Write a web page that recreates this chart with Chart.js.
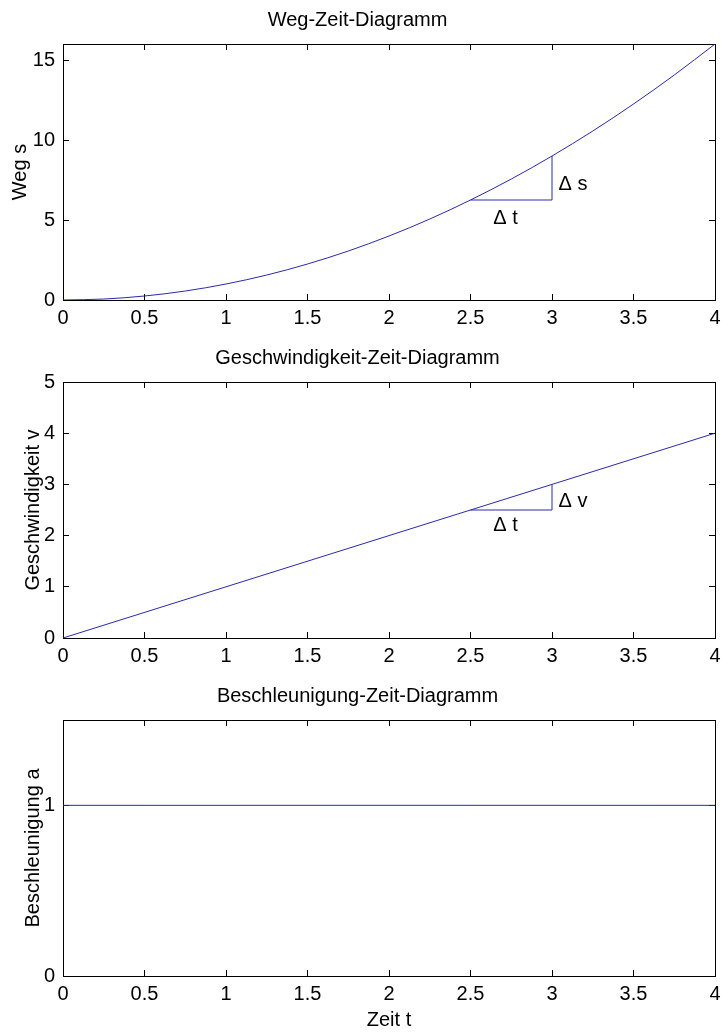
<!DOCTYPE html>
<html>
<head>
<meta charset="utf-8">
<script src="https://cdn.jsdelivr.net/npm/chart.js"></script>
<style>
  html, body { margin: 0; padding: 0; background: #fff; }
  .plot { position: absolute; left: 0; }
</style>
</head>
<body>
<canvas id="c1" class="plot" width="722" height="338" style="top:0px"></canvas>
<canvas id="c2" class="plot" width="722" height="338" style="top:338px"></canvas>
<canvas id="c3" class="plot" width="722" height="357" style="top:676px"></canvas>

<script>
  // Werte
  const zeit = [0, 0.25, 0.5, 0.75, 1, 1.25, 1.5, 1.75, 2, 2.25, 2.5, 2.75, 3, 3.25, 3.5, 3.75, 4];
  const weg = [0, 0.06, 0.25, 0.56, 1, 1.56, 2.25, 3.06, 4, 5.06, 6.25, 7.56, 9, 10.56, 12.25, 14.06, 16];
  const vZeit = [0, 4];
  const geschw = [0, 4];
  const aZeit = [0, 4];
  const beschl = [1, 1];

  // Steigungsdreiecke
  const dreieckSZeit = [2.5, 3, 3];
  const dreieckSWeg = [6.25, 6.25, 9];
  const dreieckVZeit = [2.5, 3, 3];
  const dreieckVGeschw = [2.5, 2.5, 3];

  const xTicks = [0, 0.5, 1, 1.5, 2, 2.5, 3, 3.5, 4];
  const sTicks = [0, 5, 10, 15];
  const vTicks = [0, 1, 2, 3, 4, 5];
  const aTicks = [0, 1];

  const LINE = '#2a2aa8';
  const FONT = { family: "'Liberation Sans', Arial, sans-serif", size: 20, weight: 'normal' };

  Chart.defaults.color = '#000';
  Chart.defaults.font.family = FONT.family;
  Chart.defaults.font.size = FONT.size;

  function points(xs, ys) {
    return xs.map((x, i) => ({ x: x, y: ys[i] }));
  }

  // Textmarken wie text() in MATLAB (linksbündig, vertikal mittig)
  const deltaLabels = {
    id: 'deltaLabels',
    afterDatasetsDraw(chart, args, opts) {
      const ctx = chart.ctx;
      const xs = chart.scales.x, ys = chart.scales.y;
      ctx.save();
      ctx.fillStyle = '#000';
      ctx.font = `${FONT.size}px ${FONT.family}`;
      ctx.textAlign = 'left';
      ctx.textBaseline = 'middle';
      (opts.items || []).forEach(it => {
        ctx.fillText(it.text, xs.getPixelForValue(it.x), ys.getPixelForValue(it.y));
      });
      ctx.restore();
    }
  };

  function tickSetter(list) {
    return scale => { scale.ticks = list.map(v => ({ value: v })); };
  }

  function makeChart(id, titleText, yTitle, yTitlePad, yMax, yTickList, datasets, labels, xTitle) {
    const axisHeight = xTitle ? 57 : 38;
    const gridCfg = { drawOnChartArea: false, drawTicks: true, tickLength: -6, color: '#000', tickColor: '#000', lineWidth: 1 };
    const borderCfg = { display: true, color: '#000', width: 1 };
    new Chart(document.getElementById(id), {
      type: 'line',
      data: { datasets: datasets },
      options: {
        responsive: false,
        animation: false,
        layout: { padding: { left: 0, right: 7, top: 0, bottom: 0 } },
        plugins: {
          legend: { display: false },
          tooltip: { enabled: false },
          title: { display: true, text: titleText, font: FONT, color: '#000', padding: { top: 8, bottom: 12 } },
          deltaLabels: { items: labels }
        },
        elements: { point: { radius: 0 }, line: { borderWidth: 1, tension: 0 } },
        scales: {
          x: {
            type: 'linear', position: 'bottom', min: 0, max: 4,
            afterBuildTicks: tickSetter(xTicks),
            afterFit: s => { s.height = axisHeight; s.paddingLeft = 0; s.paddingRight = 0; },
            grid: gridCfg, border: borderCfg,
            ticks: { autoSkip: false, maxRotation: 0, padding: 12, callback: v => String(v) },
            title: { display: !!xTitle, text: xTitle || '', font: FONT, padding: { top: 0, bottom: 1 } }
          },
          x2: {
            type: 'linear', position: 'top', min: 0, max: 4,
            afterBuildTicks: tickSetter(xTicks),
            afterFit: s => { s.height = 0; s.paddingLeft = 0; s.paddingRight = 0; },
            grid: gridCfg, border: borderCfg,
            ticks: { display: false }
          },
          y: {
            type: 'linear', position: 'left', min: 0, max: yMax,
            afterBuildTicks: tickSetter(yTickList),
            afterFit: s => { s.width = 63; s.paddingTop = 0; s.paddingBottom = 0; },
            grid: gridCfg, border: borderCfg,
            ticks: { padding: 14, callback: v => String(v) },
            title: { display: true, text: yTitle, font: FONT, padding: { top: yTitlePad, bottom: 0 } }
          },
          y2: {
            type: 'linear', position: 'right', min: 0, max: yMax,
            afterBuildTicks: tickSetter(yTickList),
            afterFit: s => { s.width = 0; s.paddingTop = 0; s.paddingBottom = 0; },
            grid: gridCfg, border: borderCfg,
            ticks: { display: false }
          }
        }
      },
      plugins: [deltaLabels]
    });
  }

  makeChart('c1', 'Weg-Zeit-Diagramm', 'Weg s', 8, 16, sTicks, [
    { data: points(zeit, weg), borderColor: LINE, cubicInterpolationMode: 'monotone' },
    { data: points(dreieckSZeit, dreieckSWeg), borderColor: LINE }
  ], [
    { text: '\u0394 t', x: 2.64, y: 5.1 },
    { text: '\u0394 s', x: 3.04, y: 7.2 }
  ]);

  makeChart('c2', 'Geschwindigkeit-Zeit-Diagramm', 'Geschwindigkeit v', 21, 5, vTicks, [
    { data: points(vZeit, geschw), borderColor: LINE },
    { data: points(dreieckVZeit, dreieckVGeschw), borderColor: LINE }
  ], [
    { text: '\u0394 t', x: 2.64, y: 2.2 },
    { text: '\u0394 v', x: 3.04, y: 2.66 }
  ]);

  makeChart('c3', 'Beschleunigung-Zeit-Diagramm', 'Beschleunigung a', 21, 1.5, aTicks, [
    { data: points(aZeit, beschl), borderColor: LINE }
  ], [], 'Zeit t');
</script>
</body>
</html>
